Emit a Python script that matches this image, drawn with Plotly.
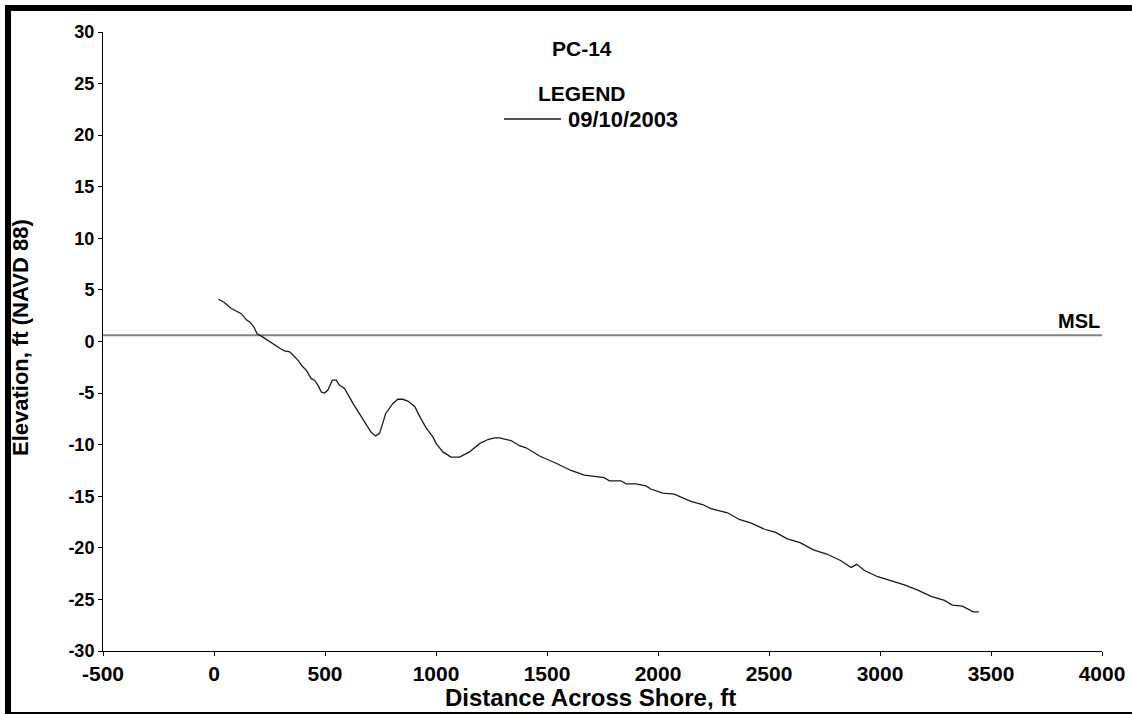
import plotly.graph_objects as go

# Beach profile PC-14, survey of 09/10/2003
distance_ft = [20, 45, 78, 100, 123, 146, 161, 180, 194, 215, 236, 260, 281, 300, 318,
               341, 360, 378, 398, 416, 438, 453, 470, 483, 498, 513, 533, 551, 563, 588,
               626, 671, 708, 728, 746, 773, 806, 828, 851, 875, 904, 930, 956, 986, 1001,
               1031, 1068, 1106, 1151, 1196, 1234, 1263, 1286, 1338, 1376, 1406, 1466, 1541,
               1608, 1668, 1758, 1781, 1833, 1856, 1901, 1946, 1968, 2021, 2073, 2148, 2201,
               2238, 2313, 2366, 2420, 2480, 2530, 2580, 2640, 2700, 2760, 2820, 2870, 2895,
               2930, 2990, 3050, 3110, 3170, 3230, 3290, 3326, 3371, 3401, 3420, 3445]
elevation_ft = [4.1, 3.8, 3.2, 2.95, 2.7, 2.1, 1.9, 1.4, 0.75, 0.5, 0.2, -0.2, -0.5, -0.7, -0.9,
                -1.0, -1.4, -1.8, -2.4, -2.8, -3.6, -3.75, -4.3, -4.9, -5.0, -4.7, -3.75, -3.75, -4.2, -4.55,
                -6.0, -7.6, -8.8, -9.15, -8.9, -7.0, -6.0, -5.6, -5.6, -5.8, -6.3, -7.4, -8.4, -9.25, -9.9,
                -10.7, -11.2, -11.2, -10.7, -9.9, -9.5, -9.35, -9.35, -9.6, -10.1, -10.3, -11.1, -11.8,
                -12.5, -12.95, -13.2, -13.5, -13.5, -13.8, -13.8, -14.0, -14.3, -14.7, -14.8, -15.5, -15.8,
                -16.2, -16.6, -17.25, -17.6, -18.2, -18.5, -19.1, -19.5, -20.2, -20.6, -21.2, -21.9, -21.6,
                -22.2, -22.8, -23.2, -23.6, -24.1, -24.7, -25.1, -25.55, -25.65, -26.0, -26.2, -26.2]

survey_date = "09/10/2003"
profile_name = "PC-14"
msl_elev = 0.6
x_range = [-500, 4000]
y_range = [-30, 30]
x_ticks = [-500, 0, 500, 1000, 1500, 2000, 2500, 3000, 3500, 4000]
y_ticks = [-30, -25, -20, -15, -10, -5, 0, 5, 10, 15, 20, 25, 30]

FONT = "Liberation Sans, Arial, sans-serif"

fig = go.Figure()

# Mean sea level reference line across the full distance range
fig.add_trace(go.Scatter(x=x_range, y=[msl_elev, msl_elev], mode="lines",
                         line=dict(color="#808080", width=2), showlegend=False,
                         hoverinfo="skip"))

# Surveyed profile
fig.add_trace(go.Scatter(x=distance_ft, y=elevation_ft, mode="lines",
                         line=dict(color="#1a1a1a", width=1.3), name=survey_date,
                         showlegend=False))

L, R, T, B = 103, 30, 32, 63
W, H = 1132, 714
pw, ph = W - L - R, H - T - B


def px(xp):
    return (xp - L) / pw


def py(yp):
    return (H - B - yp) / ph


def label(text, xp, yp, size, xanchor="center", angle=0):
    return dict(text="<b>%s</b>" % text, x=px(xp), y=py(yp), xref="paper", yref="paper",
                xanchor=xanchor, yanchor="middle", textangle=angle, showarrow=False,
                font=dict(size=size, family=FONT, color="black"))


annotations = [
    label(profile_name, 582, 48, 21),
    label("LEGEND", 582, 93, 21),
    label(survey_date, 566, 119, 22, xanchor="left"),
    dict(text="<b>MSL</b>", x=1, y=msl_elev, xref="paper", yref="y", xanchor="right",
         yanchor="bottom", yshift=1, showarrow=False,
         font=dict(size=20, family=FONT, color="black")),
    label("Distance Across Shore, ft", 590, 698, 24),
    label("Elevation, ft (NAVD 88)", 20, 338, 22, angle=-90),
]


def frame_line(x0, y0, x1, y1):
    return dict(type="line", xref="paper", yref="paper", x0=px(x0), x1=px(x1),
                y0=py(y0), y1=py(y1), line=dict(color="black", width=6))


shapes = [
    # legend sample line
    dict(type="line", xref="paper", yref="paper", x0=px(504), x1=px(561), y0=py(119), y1=py(119),
         line=dict(color="#1a1a1a", width=1.3)),
    # outer frame: left, top and bottom edges
    frame_line(8, 5, 8, 714),
    frame_line(5, 8, 1132, 8),
    frame_line(5, 715, 1132, 715),
]

fig.update_layout(
    width=W, height=H, autosize=False,
    margin=dict(l=L, r=R, t=T, b=B, pad=0),
    paper_bgcolor="white", plot_bgcolor="white",
    font=dict(family=FONT, color="black"),
    annotations=annotations, shapes=shapes,
    showlegend=False,
)

fig.update_xaxes(range=x_range, tickmode="array", tickvals=x_ticks,
                 ticktext=["<b>%d</b>" % v for v in x_ticks],
                 automargin=False, showgrid=False, zeroline=False,
                 showline=True, linecolor="black", linewidth=1, ticks="outside",
                 ticklen=4, tickcolor="black", tickwidth=1,
                 tickfont=dict(size=21, family=FONT, color="black"))
fig.update_yaxes(range=y_range, tickmode="array", tickvals=y_ticks,
                 ticktext=["<b>%d</b>" % v for v in y_ticks],
                 automargin=False, showgrid=False, zeroline=False,
                 showline=True, linecolor="black", linewidth=1, ticks="outside",
                 ticklen=4, tickcolor="black", tickwidth=1,
                 tickfont=dict(size=18, family=FONT, color="black"))

fig.write_html("out.html")
